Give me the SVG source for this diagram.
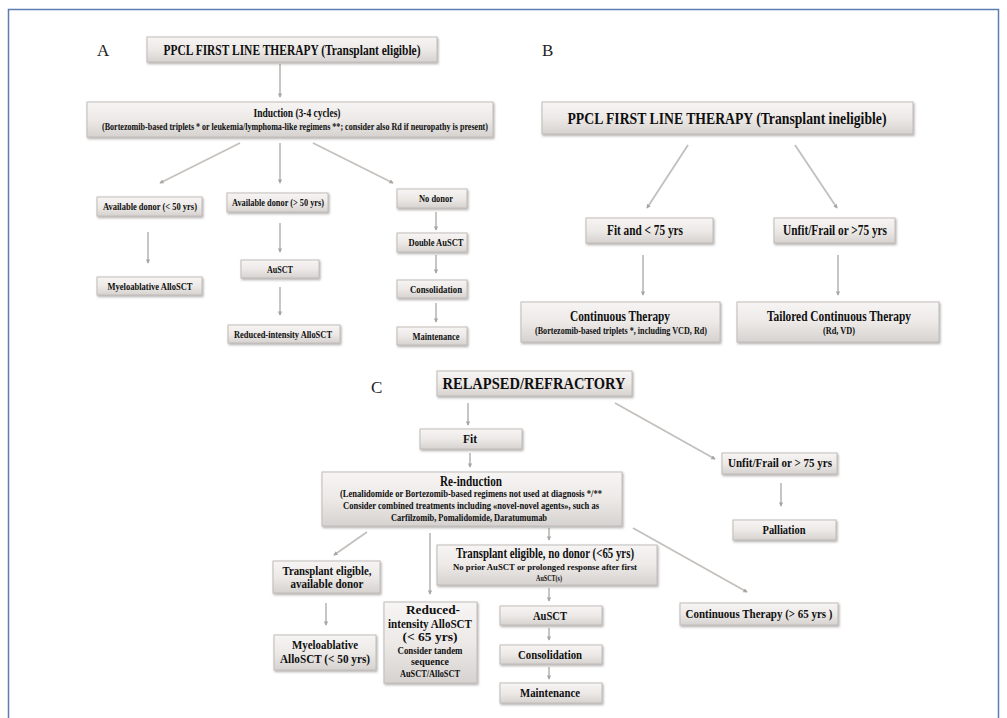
<svg xmlns="http://www.w3.org/2000/svg" width="1007" height="718" viewBox="0 0 1007 718">
<style>
.bx{fill:url(#g);stroke:#c2bdba;stroke-width:1;filter:url(#sh)}
.t{font-family:"Liberation Serif","Times New Roman",serif;font-weight:bold;fill:#0f0f0f;text-anchor:middle}
.lbl{font-family:"Liberation Serif","Times New Roman",serif;fill:#222;font-size:17px}
.c{stroke:#c3bfbc;stroke-width:1.8;fill:none;marker-end:url(#ah)}
</style>
<defs>
<linearGradient id="g" x1="0" y1="0" x2="0" y2="1">
<stop offset="0" stop-color="#f7f5f4"/>
<stop offset="0.5" stop-color="#ece9e7"/>
<stop offset="1" stop-color="#d6d2cf"/>
</linearGradient>
<filter id="sh" x="-5%" y="-20%" width="110%" height="150%">
<feDropShadow dx="1" dy="1.5" stdDeviation="0.8" flood-color="#7d7875" flood-opacity="0.6"/>
</filter>
<marker id="ah" viewBox="0 0 6 6" refX="5" refY="3" markerWidth="2.4" markerHeight="2.4" orient="auto">
<path d="M0,0 L6,3 L0,6 z" fill="#a9a5a2"/>
</marker>
</defs>
<rect width="1007" height="718" fill="#fff"/>
<path d="M8.5 718 L8.5 9.5 L998.5 9.5 L998.5 718" fill="none" stroke="#5b7db0" stroke-width="1.5"/>

<text class="lbl" x="97" y="56">A</text>
<text class="lbl" x="542" y="56">B</text>
<text class="lbl" x="371" y="393" font-size="18">C</text>

<g id="connectors">
<line class="c" x1="280" y1="64" x2="280" y2="97"/>
<line class="c" x1="240" y1="143" x2="160" y2="183"/>
<line class="c" x1="280" y1="143" x2="280" y2="183"/>
<line class="c" x1="313" y1="143" x2="393" y2="183"/>
<line class="c" x1="148" y1="232" x2="148" y2="263"/>
<line class="c" x1="280" y1="223" x2="280" y2="252"/>
<line class="c" x1="280" y1="287" x2="280" y2="315"/>
<line class="c" x1="436" y1="212" x2="436" y2="230"/>
<line class="c" x1="436" y1="255" x2="436" y2="273"/>
<line class="c" x1="436" y1="303" x2="436" y2="322"/>
<line class="c" x1="688" y1="145" x2="647" y2="208"/>
<line class="c" x1="795" y1="145" x2="837" y2="208"/>
<line class="c" x1="643" y1="255" x2="643" y2="295"/>
<line class="c" x1="838" y1="255" x2="838" y2="295"/>
<line class="c" x1="468" y1="403" x2="468" y2="425"/>
<line class="c" x1="615" y1="403" x2="715" y2="459"/>
<line class="c" x1="470" y1="453" x2="470" y2="467"/>
<line class="c" x1="781" y1="483" x2="781" y2="506"/>
<line class="c" x1="367" y1="532" x2="334" y2="555"/>
<line class="c" x1="430" y1="533" x2="430" y2="594"/>
<line class="c" x1="549" y1="528" x2="549" y2="540"/>
<line class="c" x1="633" y1="528" x2="747" y2="592"/>
<line class="c" x1="326" y1="603" x2="326" y2="625"/>
<line class="c" x1="549" y1="588" x2="549" y2="601"/>
<line class="c" x1="549" y1="628" x2="549" y2="640"/>
<line class="c" x1="549" y1="667" x2="549" y2="679"/>
</g>

<g id="nA0"><rect class="bx" x="147" y="37" width="290" height="25"/>
<text class="t" x="292" y="55" font-size="15.5" textLength="257" lengthAdjust="spacingAndGlyphs">PPCL FIRST LINE THERAPY (Transplant eligible)</text></g>
<g id="nA1"><rect class="bx" x="87" y="102" width="406" height="35"/>
<text class="t" x="297" y="117" font-size="12" textLength="87" lengthAdjust="spacingAndGlyphs">Induction (3-4 cycles)</text>
<text class="t" x="295" y="130" font-size="10" textLength="386" lengthAdjust="spacingAndGlyphs">(Bortezomib-based triplets *  or leukemia/lymphoma-like regimens **; consider also Rd if neuropathy is present)</text></g>
<g id="nA2"><rect class="bx" x="97" y="197" width="105" height="19"/>
<text class="t" x="150" y="210" font-size="11" textLength="94" lengthAdjust="spacingAndGlyphs">Available donor (&lt; 50 yrs)</text></g>
<g id="nA3"><rect class="bx" x="227" y="193" width="101" height="19"/>
<text class="t" x="278" y="206" font-size="11" textLength="92" lengthAdjust="spacingAndGlyphs">Available donor (&gt; 50 yrs)</text></g>
<g id="nA4"><rect class="bx" x="397" y="189" width="70" height="19"/>
<text class="t" x="436" y="202" font-size="11" textLength="34" lengthAdjust="spacingAndGlyphs">No donor</text></g>
<g id="nA5"><rect class="bx" x="97" y="277" width="105" height="18"/>
<text class="t" x="150" y="290" font-size="11" textLength="85" lengthAdjust="spacingAndGlyphs">Myeloablative AlloSCT</text></g>
<g id="nA6"><rect class="bx" x="241" y="260" width="78" height="18"/>
<text class="t" x="280" y="273" font-size="11" textLength="26" lengthAdjust="spacingAndGlyphs">AuSCT</text></g>
<g id="nA7"><rect class="bx" x="228" y="325" width="112" height="18"/>
<text class="t" x="283" y="338" font-size="11" textLength="98" lengthAdjust="spacingAndGlyphs">Reduced-intensity AlloSCT</text></g>
<g id="nA8"><rect class="bx" x="397" y="233" width="70" height="19"/>
<text class="t" x="436" y="246" font-size="11" textLength="55" lengthAdjust="spacingAndGlyphs">Double AuSCT</text></g>
<g id="nA9"><rect class="bx" x="397" y="280" width="70" height="18"/>
<text class="t" x="436" y="293" font-size="11" textLength="52" lengthAdjust="spacingAndGlyphs">Consolidation</text></g>
<g id="nA10"><rect class="bx" x="397" y="327" width="70" height="18"/>
<text class="t" x="436" y="340" font-size="11" textLength="47" lengthAdjust="spacingAndGlyphs">Maintenance</text></g>

<g id="nB0"><rect class="bx" x="542" y="102" width="371" height="32"/>
<text class="t" x="727" y="124" font-size="17" textLength="319" lengthAdjust="spacingAndGlyphs">PPCL FIRST LINE THERAPY (Transplant ineligible)</text></g>
<g id="nB1"><rect class="bx" x="586" y="218" width="127" height="25"/>
<text class="t" x="645" y="235" font-size="14" textLength="76" lengthAdjust="spacingAndGlyphs">Fit and &lt; 75 yrs</text></g>
<g id="nB2"><rect class="bx" x="774" y="218" width="121" height="25"/>
<text class="t" x="835" y="235" font-size="14" textLength="104" lengthAdjust="spacingAndGlyphs">Unfit/Frail or &gt;75 yrs</text></g>
<g id="nB3"><rect class="bx" x="521" y="302" width="199" height="40"/>
<text class="t" x="620" y="321" font-size="15" textLength="100" lengthAdjust="spacingAndGlyphs">Continuous Therapy</text>
<text class="t" x="621" y="334" font-size="9.5" textLength="172" lengthAdjust="spacingAndGlyphs">(Bortezomib-based triplets *, including VCD,  Rd)</text></g>
<g id="nB4"><rect class="bx" x="737" y="302" width="202" height="40"/>
<text class="t" x="839" y="321" font-size="15" textLength="144" lengthAdjust="spacingAndGlyphs">Tailored Continuous Therapy</text>
<text class="t" x="839" y="334" font-size="9.5" textLength="32" lengthAdjust="spacingAndGlyphs">(Rd, VD)</text></g>

<g id="nC0"><rect class="bx" x="437" y="371" width="195" height="25"/>
<text class="t" x="534" y="389" font-size="16.5" textLength="183" lengthAdjust="spacingAndGlyphs">RELAPSED/REFRACTORY</text></g>
<g id="nC1"><rect class="bx" x="420" y="429" width="102" height="20"/>
<text class="t" x="470" y="443" font-size="12" textLength="14" lengthAdjust="spacingAndGlyphs">Fit</text></g>
<g id="nC2"><rect class="bx" x="322" y="472" width="300" height="54"/>
<text class="t" x="471" y="486" font-size="14" textLength="62" lengthAdjust="spacingAndGlyphs">Re-induction</text>
<text class="t" x="471" y="497" font-size="10" textLength="262" lengthAdjust="spacingAndGlyphs">(Lenalidomide or Bortezomib-based regimens not used at diagnosis */**</text>
<text class="t" x="471" y="509" font-size="10" textLength="256" lengthAdjust="spacingAndGlyphs">Consider combined treatments including  «novel-novel agents», such as</text>
<text class="t" x="469" y="521" font-size="10" textLength="156" lengthAdjust="spacingAndGlyphs">Carfilzomib, Pomalidomide,  Daratumumab</text></g>
<g id="nC3"><rect class="bx" x="722" y="453" width="115" height="21"/>
<text class="t" x="780" y="467" font-size="12" textLength="104" lengthAdjust="spacingAndGlyphs">Unfit/Frail or &gt; 75 yrs</text></g>
<g id="nC4"><rect class="bx" x="733" y="520" width="103" height="20"/>
<text class="t" x="784" y="534" font-size="12" textLength="43" lengthAdjust="spacingAndGlyphs">Palliation</text></g>
<g id="nC5"><rect class="bx" x="273" y="561" width="107" height="32"/>
<text class="t" x="327" y="575" font-size="13" textLength="89" lengthAdjust="spacingAndGlyphs">Transplant eligible,</text>
<text class="t" x="327" y="588" font-size="13" textLength="73" lengthAdjust="spacingAndGlyphs">available donor</text></g>
<g id="nC6"><rect class="bx" x="274" y="635" width="102" height="35"/>
<text class="t" x="325" y="649" font-size="13" textLength="66" lengthAdjust="spacingAndGlyphs">Myeloablative</text>
<text class="t" x="325" y="663" font-size="13" textLength="90" lengthAdjust="spacingAndGlyphs">AlloSCT  (&lt; 50 yrs)</text></g>
<g id="nC7"><rect class="bx" x="384" y="602" width="93" height="81"/>
<text class="t" x="433" y="614" font-size="13" textLength="54" lengthAdjust="spacingAndGlyphs">Reduced-</text>
<text class="t" x="430" y="628" font-size="13" textLength="84" lengthAdjust="spacingAndGlyphs">intensity AlloSCT</text>
<text class="t" x="430" y="641" font-size="13" textLength="55" lengthAdjust="spacingAndGlyphs">(&lt; 65 yrs)</text>
<text class="t" x="430" y="654" font-size="9.5" textLength="65" lengthAdjust="spacingAndGlyphs">Consider  tandem</text>
<text class="t" x="430" y="665" font-size="9.5" textLength="38" lengthAdjust="spacingAndGlyphs">sequence</text>
<text class="t" x="430" y="677" font-size="9.5" textLength="60" lengthAdjust="spacingAndGlyphs">AuSCT/AlloSCT</text></g>
<g id="nC8"><rect class="bx" x="437" y="545" width="220" height="40"/>
<text class="t" x="545" y="558" font-size="14" textLength="178" lengthAdjust="spacingAndGlyphs">Transplant eligible, no donor (&lt;65 yrs)</text>
<text class="t" x="545" y="570" font-size="9" textLength="184" lengthAdjust="spacingAndGlyphs">No prior AuSCT or prolonged response  after  first</text>
<text class="t" x="549" y="581" font-size="9" textLength="26" lengthAdjust="spacingAndGlyphs">AuSCT(s)</text></g>
<g id="nC9"><rect class="bx" x="500" y="606" width="102" height="19"/>
<text class="t" x="550" y="620" font-size="13" textLength="34" lengthAdjust="spacingAndGlyphs">AuSCT</text></g>
<g id="nC10"><rect class="bx" x="500" y="645" width="102" height="19"/>
<text class="t" x="550" y="659" font-size="13" textLength="64" lengthAdjust="spacingAndGlyphs">Consolidation</text></g>
<g id="nC11"><rect class="bx" x="500" y="683" width="102" height="20"/>
<text class="t" x="550" y="697" font-size="13" textLength="60" lengthAdjust="spacingAndGlyphs">Maintenance</text></g>
<g id="nC12"><rect class="bx" x="680" y="603" width="158" height="22"/>
<text class="t" x="759" y="618" font-size="13" textLength="147" lengthAdjust="spacingAndGlyphs">Continuous Therapy (&gt; 65 yrs )</text></g>
</svg>
